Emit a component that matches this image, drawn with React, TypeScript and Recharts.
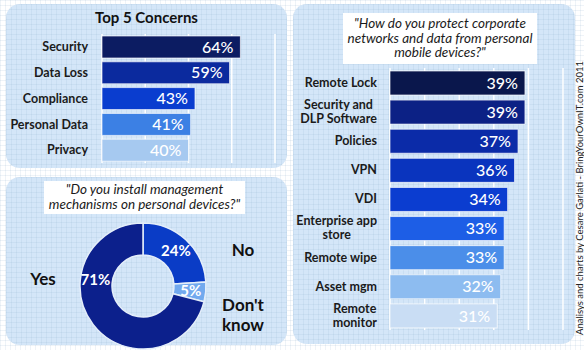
// Infografica BYOD: top 5 concerns, donut installazione MDM, barre protezione reti (Recharts).

import {
  BarChart,
  Bar,
  XAxis,
  YAxis,
  CartesianGrid,
  LabelList,
  Cell,
  PieChart,
  Pie,
} from 'recharts';

const concernNames = ['Security', 'Data Loss', 'Compliance', 'Personal Data', 'Privacy'];
const concernValues = [64, 59, 43, 41, 40];
const concernColors = ['#0c1c62', '#0b2a9e', '#0a3dcf', '#3c80e4', '#a6c9f0'];
const concernTicks = [0, 20, 40, 60, 80];

const protectNames = [
  'Remote Lock',
  'Security and\nDLP Software',
  'Policies',
  'VPN',
  'VDI',
  'Enterprise app\nstore',
  'Remote wipe',
  'Asset mgm',
  'Remote\nmonitor',
];
const protectValues = [39, 39, 37, 36, 34, 33, 33, 32, 31];
const protectColors = [
  '#0a174c', '#0c2185', '#0b2ba8', '#0a34be', '#0b3dd0',
  '#1d5ee6', '#4b8ee9', '#8dbcf0', '#c9ddf4',
];
const protectTicks = [0, 10, 20, 30, 40, 50];

const mgmtNames = ['No', "Don't\nknow", 'Yes'];
const mgmtValues = [24, 5, 71];
const mgmtColors = ['#0a3cc6', '#72a9ee', '#0c208c'];

const concernData = concernNames.map((name, i) => ({ name, value: concernValues[i] }));
const protectData = protectNames.map((name, i) => ({ name, value: protectValues[i] }));
const mgmtData = mgmtNames.map((name, i) => ({ name, value: mgmtValues[i] }));

const FONT = 'Lato, "Open Sans", sans-serif';
const RAD = Math.PI / 180;
const TICK_FS = 12.5;

const gridBg = {
  backgroundImage:
    'linear-gradient(rgba(140,170,205,0.14) 1px, transparent 1px), linear-gradient(90deg, rgba(140,170,205,0.14) 1px, transparent 1px)',
  backgroundSize: '5px 5px',
};

let ctx: CanvasRenderingContext2D | null = null;
function textWidth(s: string, font: string) {
  if (!ctx) ctx = document.createElement('canvas').getContext('2d');
  if (!ctx) return s.length * 6;
  ctx.font = font;
  return ctx.measureText(s).width;
}

function CategoryTick(props: any) {
  const { x, y, payload } = props;
  const lines = String(payload.value).split('\n');
  const style = { fontFamily: FONT, fontSize: TICK_FS, fontWeight: 700, fill: '#1b1b1b' };
  if (lines.length === 1) {
    return (
      <text x={x} y={y} dy="0.35em" textAnchor="end" style={style}>
        {lines[0]}
      </text>
    );
  }
  const w = Math.max(...lines.map((l) => textWidth(l, `700 ${TICK_FS}px ${FONT}`)));
  const cxText = x - w / 2;
  const lh = 14;
  return (
    <text x={cxText} y={y} textAnchor="middle" style={style}>
      {lines.map((l, i) => (
        <tspan key={i} x={cxText} y={y + (i - (lines.length - 1) / 2) * lh} dy="0.35em">
          {l}
        </tspan>
      ))}
    </text>
  );
}

function DonutLabel(props: any) {
  const { cx, cy, midAngle, percent, value, name } = props;
  const ang = percent > 0.5 ? 172 : midAngle;
  const px = cx + 48 * Math.cos(-ang * RAD);
  const py = cy + 48 * Math.sin(-ang * RAD);
  const side = Math.cos(-ang * RAD) >= 0 ? 1 : -1;
  const nx = cx + side * 100;
  const ny = cy - Math.sin(ang * RAD) * 50;
  const lines = String(name).split('\n');
  const nameStyle = { fontFamily: FONT, fontSize: 17, fontWeight: 700, fill: '#111' };
  const start = lines.length > 1 ? ny + 14 : ny;
  return (
    <g>
      <text
        x={px}
        y={py}
        dy="0.35em"
        textAnchor="middle"
        style={{ fontFamily: FONT, fontSize: 15, fontWeight: 700, fill: '#fff' }}
      >
        {value}%
      </text>
      <text x={nx} y={start} textAnchor="middle" style={nameStyle}>
        {lines.map((l, i) => (
          <tspan key={i} x={nx} y={start + i * 20} dy="0.35em">
            {l}
          </tspan>
        ))}
      </text>
    </g>
  );
}

const panel = (left: number, top: number, width: number, height: number) => ({
  position: 'absolute' as const,
  left,
  top,
  width,
  height,
  borderRadius: 14,
  backgroundColor: '#d4e6f8',
  ...gridBg,
});

const qBox = {
  position: 'absolute' as const,
  background: '#ffffff',
  fontFamily: FONT,
  fontStyle: 'italic',
  fontSize: 13.5,
  color: '#1b1b1b',
  textAlign: 'center' as const,
};

export default function App() {
  return (
    <div
      style={{
        position: 'absolute',
        left: 0,
        top: 0,
        width: 584,
        height: 350,
        overflow: 'hidden',
        backgroundColor: '#ffffff',
        ...gridBg,
        fontFamily: FONT,
      }}
    >
      <div style={panel(6, 4, 281, 164)} />
      <div style={panel(6, 177, 281, 168)} />
      <div style={panel(293, 4, 282, 340)} />

      {/* Top 5 Concerns */}
      <div
        style={{
          position: 'absolute',
          left: 6,
          width: 281,
          top: 8,
          textAlign: 'center',
          fontWeight: 700,
          fontSize: 15,
          color: '#111',
        }}
      >
        Top 5 Concerns
      </div>
      <div style={{ position: 'absolute', left: 0, top: 0 }}>
        <BarChart
          width={290}
          height={170}
          data={concernData}
          layout="vertical"
          margin={{ top: 34, right: 15, bottom: 7, left: 0 }}
          barCategoryGap={0}
        >
          <CartesianGrid horizontal={false} stroke="#ffffff" strokeWidth={1.5} />
          <XAxis type="number" domain={[0, 80]} ticks={concernTicks} hide />
          <YAxis
            type="category"
            dataKey="name"
            width={102}
            axisLine={false}
            tickLine={false}
            tickSize={0}
            tickMargin={14}
            tick={<CategoryTick />}
            interval={0}
          />
          <Bar
            dataKey="value"
            barSize={22}
            isAnimationActive={false}
            stroke="rgba(255,255,255,0.65)"
            strokeWidth={1}
          >
            {concernData.map((d, i) => (
              <Cell key={d.name} fill={concernColors[i]} />
            ))}
            <LabelList
              dataKey="value"
              position="insideRight"
              offset={7}
              formatter={(v: any) => `${v}%`}
              style={{ fontFamily: FONT, fontSize: 16, fill: '#ffffff', fontWeight: 500 }}
            />
          </Bar>
        </BarChart>
      </div>

      {/* Donut */}
      <div style={{ ...qBox, left: 44, top: 181, width: 201, height: 32, lineHeight: '15px', paddingTop: 1 }}>
        "Do you install management
        <br />
        mechanisms on personal devices?"
      </div>
      <div style={{ position: 'absolute', left: 0, top: 175 }}>
        <PieChart width={290} height={175}>
          <Pie
            data={mgmtData}
            dataKey="value"
            nameKey="name"
            cx={138}
            cy={106}
            innerRadius={31}
            outerRadius={63}
            startAngle={90}
            endAngle={-270}
            stroke="#e4eefa"
            strokeWidth={1.5}
            labelLine={false}
            label={<DonutLabel />}
            isAnimationActive={false}
          >
            {mgmtData.map((d, i) => (
              <Cell key={d.name} fill={mgmtColors[i]} />
            ))}
          </Pie>
        </PieChart>
      </div>

      {/* Protect corporate networks */}
      <div style={{ ...qBox, left: 343, top: 13, width: 194, height: 48, lineHeight: '14.5px', paddingTop: 3 }}>
        "How do you protect corporate
        <br />
        networks and data from personal
        <br />
        mobile devices?"
      </div>
      <div style={{ position: 'absolute', left: 290, top: 0 }}>
        <BarChart
          width={290}
          height={340}
          data={protectData}
          layout="vertical"
          margin={{ top: 68, right: 17, bottom: 10, left: 0 }}
          barCategoryGap={0}
        >
          <CartesianGrid horizontal={false} stroke="#ffffff" strokeWidth={1.5} />
          <XAxis type="number" domain={[0, 50]} ticks={protectTicks} hide />
          <YAxis
            type="category"
            dataKey="name"
            width={100}
            axisLine={false}
            tickLine={false}
            tickSize={0}
            tickMargin={13}
            tick={<CategoryTick />}
            interval={0}
          />
          <Bar
            dataKey="value"
            barSize={24}
            isAnimationActive={false}
            stroke="rgba(255,255,255,0.65)"
            strokeWidth={1}
          >
            {protectData.map((d, i) => (
              <Cell key={d.name} fill={protectColors[i]} />
            ))}
            <LabelList
              dataKey="value"
              position="insideRight"
              offset={7}
              formatter={(v: any) => `${v}%`}
              style={{ fontFamily: FONT, fontSize: 16, fill: '#ffffff', fontWeight: 500 }}
            />
          </Bar>
        </BarChart>
      </div>

      <div
        style={{
          position: 'absolute',
          left: 579,
          top: 198,
          transform: 'translate(-50%, -50%) rotate(-90deg)',
          whiteSpace: 'nowrap',
          fontSize: 9.5,
          color: '#222',
        }}
      >
        Analisys and charts by Cesare Garlati - BringYourOwnIT.com 2011
      </div>
    </div>
  );
}
